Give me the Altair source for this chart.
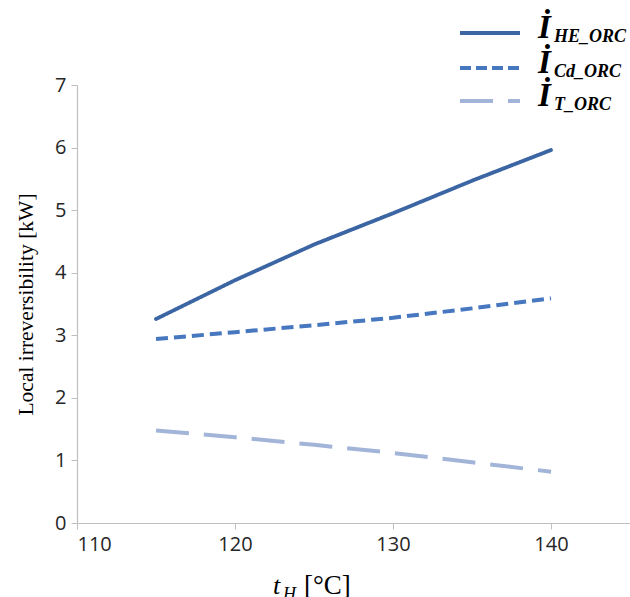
import altair as alt
import pandas as pd

t_h = [115, 120, 125, 130, 135, 140]
i_he = [3.26, 3.88, 4.45, 4.95, 5.47, 5.96]
i_cd = [2.94, 3.05, 3.16, 3.28, 3.43, 3.59]
i_t = [1.48, 1.37, 1.25, 1.12, 0.97, 0.82]

series_subs = ["HE_ORC", "Cd_ORC", "T_ORC"]
x_ticks = [110, 120, 130, 140]
y_ticks = [0, 1, 2, 3, 4, 5, 6, 7]

colors = ["#3B65A3", "#4677BF", "#A2B5D8"]
dashes = [[1, 0], [12, 6], [33, 15]]
widths = [3.8, 4, 4]

df = pd.DataFrame({"t": t_h, "HE": i_he, "Cd": i_cd, "T": i_t})

xs = alt.Scale(domain=[110, 145], nice=False, zero=False)
ys = alt.Scale(domain=[0, 7], nice=False)

xaxis = alt.Axis(values=x_ticks, title=None, grid=False, domainColor="#BFBFBF",
                 tickColor="#BFBFBF", tickSize=6, labelFont="Open Sans", labelFontSize=20,
                 labelColor="#262626", labelPadding=5, domainWidth=1.2)
yaxis = alt.Axis(values=y_ticks, title="Local irreversibility [kW]", grid=False,
                 domainColor="#BFBFBF", tickColor="#BFBFBF", tickSize=6,
                 labelFont="Open Sans", labelFontSize=20, labelColor="#262626",
                 labelPadding=5, titleFont="Liberation Serif", titleFontSize=21.5,
                 titleFontWeight="normal", titleColor="#000000", titlePadding=17,
                 domainWidth=1.2)

layers = []
for i, col in enumerate(["HE", "Cd", "T"]):
    enc = dict(
        x=alt.X("t:Q", scale=xs, axis=xaxis),
        y=alt.Y(f"{col}:Q", scale=ys, axis=yaxis),
    )
    layers.append(
        alt.Chart(df).mark_line(color=colors[i], strokeDash=dashes[i],
                                strokeWidth=widths[i], strokeCap="round" if i == 0 else "butt")
        .encode(**enc)
    )

# legend (positions relative to the plot origin)
row_y = [-52, -17, 16]
for i, sub in enumerate(series_subs):
    one = pd.DataFrame({"sub": [sub], "I": ["\u0130"]})
    layers.append(
        alt.Chart(one).mark_rule(color=colors[i], strokeDash=dashes[i] if i != 1 else [11, 5],
                                 strokeWidth=widths[i])
        .encode(x=alt.value(383), x2=alt.value(443), y=alt.value(row_y[i]))
    )
    layers.append(
        alt.Chart(one).mark_text(font="Liberation Serif", fontStyle="italic", fontWeight="bold",
                                 fontSize=33, align="left", baseline="alphabetic", color="#000000")
        .encode(text="I:N", x=alt.value(461), y=alt.value(row_y[i] + 5))
    )
    layers.append(
        alt.Chart(one).mark_text(font="Liberation Serif", fontStyle="italic", fontWeight="bold",
                                 fontSize=18, align="left", baseline="alphabetic", color="#000000")
        .encode(text="sub:N", x=alt.value(477), y=alt.value(row_y[i] + 9))
    )

# x-axis title with subscript
xt = pd.DataFrame({"a": ["t"], "b": ["H"], "c": ["[\u00b0C]"]})
layers.append(
    alt.Chart(xt).mark_text(font="Liberation Serif", fontStyle="italic", fontSize=26,
                            align="left", baseline="alphabetic", color="#000000")
    .encode(text="a:N", x=alt.value(196), y=alt.value(509))
)
layers.append(
    alt.Chart(xt).mark_text(font="Liberation Serif", fontStyle="italic", fontSize=18,
                            align="left", baseline="alphabetic", color="#000000")
    .encode(text="b:N", x=alt.value(206), y=alt.value(515))
)
layers.append(
    alt.Chart(xt).mark_text(font="Liberation Serif", fontSize=27,
                            align="left", baseline="alphabetic", color="#000000")
    .encode(text="c:N", x=alt.value(227), y=alt.value(509))
)

chart = alt.layer(*layers).properties(
    width=553, height=438,
    background="#FFFFFF",
    autosize=alt.AutoSizeParams(type="none"),
    padding={"left": 77, "top": 85, "right": 0, "bottom": 74},
).configure_view(stroke=None)

chart.save("out.html", embed_options={"renderer": "svg", "actions": False})
